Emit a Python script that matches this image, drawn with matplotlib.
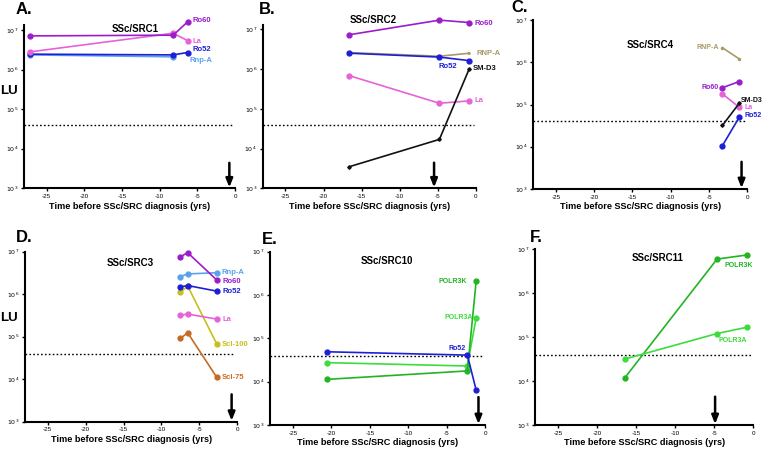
import matplotlib
matplotlib.use("Agg")
import matplotlib.pyplot as plt

plt.rcParams['font.family'] = ['Liberation Sans', 'DejaVu Sans']

W, H = 763, 451

# ---------------- data ----------------
xticks = [-25, -20, -15, -10, -5, 0]
threshold = 4.0e4

# Panel A: SSc/SRC1
A_x = [-27.2, -8.2, -6.3]
A_ro60 = [7.1e6, 7.4e6, 1.6e7]
A_la = [2.8e6, 8.3e6, 5.4e6]
A_ro52 = [2.45e6, 2.35e6, 2.7e6]
A_rnpa_x = [-27.2, -8.2]
A_rnpa = [2.35e6, 2.1e6]
A_arrow = -0.75

# Panel B: SSc/SRC2
B_x = [-16.6, -4.8, -0.9]
B_ro60 = [7.3e6, 1.7e7, 1.48e7]
B_rnpa = [2.6e6, 2.1e6, 2.5e6]
B_ro52 = [2.5e6, 2.0e6, 1.63e6]
B_la = [6.8e5, 1.38e5, 1.58e5]
B_smd3 = [3.5e3, 1.7e4, 1.0e6]
B_arrow = -5.5

# Panel C: SSc/SRC4
C_x = [-3.25, -1.05]
C_rnpa = [2.2e6, 1.2e6]
C_ro60 = [2.5e5, 3.5e5]
C_la = [1.78e5, 8.6e4]
C_smd3 = [3.2e4, 1.07e5]
C_ro52 = [1.06e4, 5.0e4]
C_arrow = -0.75

# Panel D: SSc/SRC3
D_x = [-7.5, -6.55, -2.7]
D_ro60 = [7.6e6, 9.5e6, 2.15e6]
D_rnpa = [2.6e6, 3.0e6, 3.2e6]
D_ro52 = [1.48e6, 1.6e6, 1.18e6]
D_scl100 = [1.1e6, 1.56e6, 6.7e4]
D_la = [3.2e5, 3.4e5, 2.6e5]
D_scl75 = [9.1e4, 1.24e5, 1.1e4]
D_arrow = -0.75

# Panel E: SSc/SRC10
E_x = [-20.6, -2.3, -1.15]
E_ro52 = [4.9e4, 4.1e4, 6.4e3]
E_polr3a = [2.75e4, 2.3e4, 3.0e5]
E_polr3k = [1.13e4, 1.77e4, 2.1e6]
E_arrow = -0.85

# Panel F: SSc/SRC11
F_x = [-16.45, -4.65, -0.85]
F_polr3k = [1.2e4, 5.9e6, 7.3e6]
F_polr3a = [3.16e4, 1.2e5, 1.66e5]
F_arrow = -4.9

# ---------------- colours ----------------
c_ro60 = '#9b1dc9'
c_la = '#e563d8'
c_ro52 = '#1d1fd6'
c_rnpa_lb = '#5aa2ee'
c_rnpa_tan = '#a89a68'
c_smd3 = '#111111'
c_scl100 = '#c6c01e'
c_scl75 = '#c46c24'
c_p3k = '#22b422'
c_p3a = '#3cdc3c'

fig = plt.figure(figsize=(W / 100, H / 100), dpi=100)


def make_ax(left, right, y1e3, y1e7, top):
    ax = fig.add_axes([left / W, 1 - y1e3 / H, (right - left) / W, (y1e3 - top) / H])
    ax.set_xlim(-28, 0)
    dec = (y1e3 - y1e7) / 4.0
    ymax = 10 ** (7 + (y1e7 - top) / dec)
    ax.set_yscale('log')
    ax.set_ylim(1e3, ymax)
    ax.set_yticks([1e3, 1e4, 1e5, 1e6, 1e7])
    ax.set_yticklabels([r'$10^{3}$', r'$10^{4}$', r'$10^{5}$', r'$10^{6}$', r'$10^{7}$'])
    ax.minorticks_off()
    ax.set_xticks(xticks)
    ax.set_xticklabels([str(t) for t in xticks])
    for s in ['top', 'right']:
        ax.spines[s].set_visible(False)
    for s in ['left', 'bottom']:
        ax.spines[s].set_linewidth(1.5)
    ax.tick_params(axis='both', labelsize=4.5, length=2.5, width=1, pad=1.5)
    ax.set_xlabel('Time before SSc/SRC diagnosis (yrs)', fontsize=6.6,
                  fontweight='bold', labelpad=2)
    ax.axhline(threshold, xmin=0, xmax=0.99, color='black', ls=(0, (1.2, 1.6)), lw=1)
    ax.patch.set_alpha(0)
    return ax


def series(ax, x, y, c, ms=3.5, marker='o', lw=1.2):
    ax.plot(x, y, color=c, lw=lw, marker=marker, ms=ms, clip_on=False, zorder=3)


def label(ax, text, x, y, c, dx, dy, ha='left', size=5.5):
    ax.annotate(text, xy=(x, y), xytext=(dx, dy), textcoords='offset pixels',
                color=c, fontsize=size, fontweight='bold', ha=ha, va='center',
                annotation_clip=False)


def arrow(ax, x):
    ax.annotate('', xy=(x, 1.05e3), xytext=(x, 4.4e3),
                arrowprops=dict(arrowstyle='-|>,head_length=0.5,head_width=0.2',
                                lw=1.8, color='black', shrinkA=0, shrinkB=0),
                annotation_clip=False)


def ftext(x, y, s, size, **kw):
    fig.text(x / W, 1 - y / H, s, fontsize=size, fontweight='bold', ha='center',
             va='center', **kw)


# ---- A ----
ax = make_ax(24, 235, 188.3, 30, 25)
series(ax, A_rnpa_x, A_rnpa, c_rnpa_lb)
series(ax, A_x, A_ro52, c_ro52)
series(ax, A_x, A_la, c_la)
series(ax, A_x, A_ro60, c_ro60)
label(ax, 'Ro60', A_x[-1], A_ro60[-1], c_ro60, 5, 1)
label(ax, 'La', A_x[-1], A_la[-1], c_la, 5, -1)
label(ax, 'Ro52', A_x[-1], A_ro52[-1], c_ro52, 5, 3)
label(ax, 'Rnp-A', A_x[-1], A_ro52[-1], c_rnpa_lb, 2, -8)
arrow(ax, A_arrow)
ftext(135, 29, 'SSc/SRC1', 7)
ftext(24, 10, 'A.', 12)
ftext(9, 91, 'LU', 9.5)

# ---- B ----
ax = make_ax(262.5, 476, 188.3, 29.3, 25)
series(ax, B_x, B_rnpa, c_rnpa_tan, ms=1.5, marker='>')
series(ax, B_x, B_ro52, c_ro52)
series(ax, B_x, B_ro60, c_ro60)
series(ax, B_x, B_la, c_la)
series(ax, B_x, B_smd3, c_smd3, ms=1.8, marker='D')
label(ax, 'Ro60', B_x[-1], B_ro60[-1], c_ro60, 5, -1)
label(ax, 'RNP-A', B_x[-1], B_rnpa[-1], c_rnpa_tan, 7, 0)
label(ax, 'Ro52', B_x[1], B_ro52[1], c_ro52, 8, -9, ha='center')
label(ax, 'SM-D3', B_x[-1], B_smd3[-1], c_smd3, 4, 1)
label(ax, 'La', B_x[-1], B_la[-1], c_la, 5, 0)
arrow(ax, B_arrow)
ftext(373, 20, 'SSc/SRC2', 7)
ftext(267, 10, 'B.', 12)

# ---- C ----
ax = make_ax(533, 747.3, 189, 20, 20)
series(ax, C_x, C_rnpa, c_rnpa_tan, ms=1.5)
series(ax, C_x, C_ro60, c_ro60)
series(ax, C_x, C_la, c_la)
series(ax, C_x, C_smd3, c_smd3, ms=1.8, marker='D')
series(ax, C_x, C_ro52, c_ro52)
label(ax, 'RNP-A', C_x[0], C_rnpa[0], c_rnpa_tan, -4, 0, ha='right', size=5)
label(ax, 'Ro60', C_x[0], C_ro60[0], c_ro60, -4, 0, ha='right', size=5)
label(ax, 'SM-D3', C_x[-1], C_smd3[-1], c_smd3, 2, 3, size=5)
label(ax, 'La', C_x[-1], C_la[-1], c_la, 5, 0, size=5)
label(ax, 'Ro52', C_x[-1], C_ro52[-1], c_ro52, 5, 2, size=5)
arrow(ax, C_arrow)
ftext(650, 45, 'SSc/SRC4', 7)
ftext(520, 8, 'C.', 12)

# ---- D ----
ax = make_ax(25, 237.3, 421.7, 251.7, 251.7)
series(ax, D_x, D_rnpa, c_rnpa_lb)
series(ax, D_x, D_ro60, c_ro60)
series(ax, D_x, D_scl100, c_scl100)
series(ax, D_x, D_ro52, c_ro52)
series(ax, D_x, D_la, c_la)
series(ax, D_x, D_scl75, c_scl75)
label(ax, 'Rnp-A', D_x[-1], D_rnpa[-1], c_rnpa_lb, 5, 0)
label(ax, 'Ro60', D_x[-1], D_ro60[-1], c_ro60, 6, -1)
label(ax, 'Ro52', D_x[-1], D_ro52[-1], c_ro52, 6, 0)
label(ax, 'La', D_x[-1], D_la[-1], c_la, 6, 0)
label(ax, 'Scl-100', D_x[-1], D_scl100[-1], c_scl100, 5, 0)
label(ax, 'Scl-75', D_x[-1], D_scl75[-1], c_scl75, 5, 0)
arrow(ax, D_arrow)
ftext(130, 263, 'SSc/SRC3', 7)
ftext(24, 238, 'D.', 12)
ftext(9, 318, 'LU', 9.5)

# ---- E ----
ax = make_ax(270, 485, 425, 251.7, 251.7)
series(ax, E_x, E_polr3a, c_p3a)
series(ax, E_x, E_polr3k, c_p3k)
series(ax, E_x, E_ro52, c_ro52)
label(ax, 'POLR3K', E_x[-1], E_polr3k[-1], c_p3k, -9, 0, ha='right', size=5)
label(ax, 'POLR3A', E_x[-1], E_polr3a[-1], c_p3a, -3, 0, ha='right', size=5)
label(ax, 'Ro52', E_x[1], E_ro52[1], c_ro52, -2, 7, ha='right', size=5)
arrow(ax, E_arrow)
ftext(387, 261, 'SSc/SRC10', 7)
ftext(270, 240, 'E.', 12)

# ---- F ----
ax = make_ax(535, 753.3, 425, 249, 249)
series(ax, F_x, F_polr3k, c_p3k)
series(ax, F_x, F_polr3a, c_p3a)
label(ax, 'POLR3K', F_x[-1], F_polr3k[-1], c_p3k, 6, -10, ha='right', size=5)
label(ax, 'POLR3A', F_x[-1], F_polr3a[-1], c_p3a, 0, -13, ha='right', size=5)
arrow(ax, F_arrow)
ftext(658, 258, 'SSc/SRC11', 7)
ftext(536, 237, 'F.', 12)

fig.savefig('out.png', dpi=100)
